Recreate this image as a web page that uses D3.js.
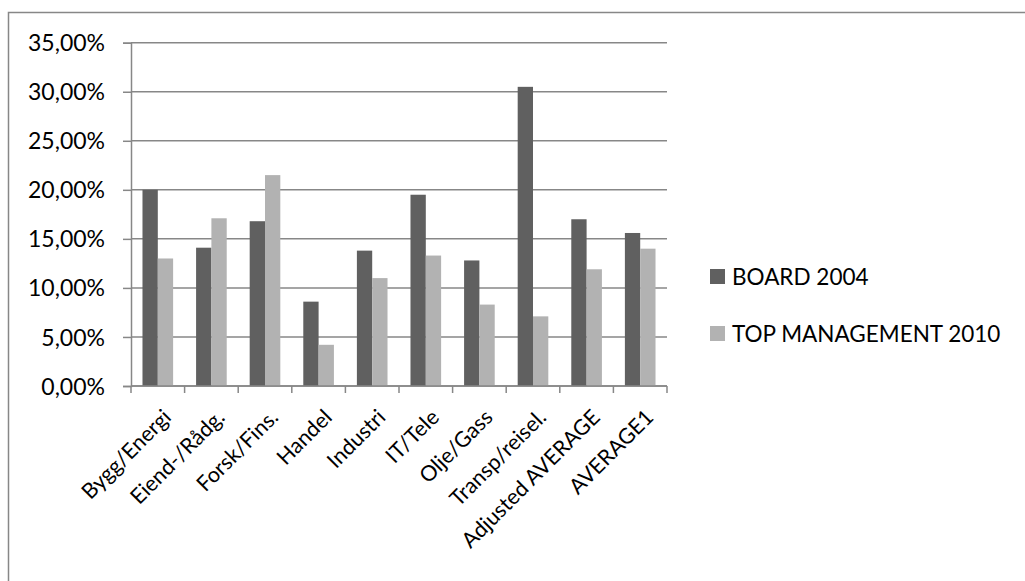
<!DOCTYPE html>
<html>
<head>
<meta charset="utf-8">
<script src="https://cdn.jsdelivr.net/npm/d3@7"></script>
<style>
  html, body { margin: 0; padding: 0; background: #fff; }
  svg { display: block; }
  text { font-family: Lato, "Open Sans", sans-serif; fill: #000; }
</style>
</head>
<body>
<svg id="chart" width="1025" height="581"></svg>
<script>
// Sector shares of women, board vs. top management
const categories = ["Bygg/Energi", "Eiend-/Rådg.", "Forsk/Fins.", "Handel", "Industri",
  "IT/Tele", "Olje/Gass", "Transp/reisel.", "Adjusted AVERAGE", "AVERAGE1"];
const board2004 = [0.200, 0.141, 0.168, 0.086, 0.138, 0.195, 0.128, 0.305, 0.170, 0.156];
const topMgmt2010 = [0.130, 0.171, 0.215, 0.042, 0.110, 0.133, 0.083, 0.071, 0.119, 0.140];
const seriesNames = ["BOARD 2004", "TOP MANAGEMENT 2010"];
const yTicks = [0, 0.05, 0.10, 0.15, 0.20, 0.25, 0.30, 0.35];

const colors = ["#606060", "#b2b2b2"];
const gridColor = "#878787";
const fontSize = 23;
const catFontSize = 21.5;

const svg = d3.select("#chart");
const plot = { left: 131, right: 667, top: 42.7, bottom: 386 };

// outer chart frame
svg.append("rect")
  .attr("x", 8.5).attr("y", 12.5)
  .attr("width", 1040).attr("height", 600)
  .attr("fill", "none").attr("stroke", gridColor).attr("stroke-width", 1.5);

const x = d3.scaleBand().domain(categories)
  .range([plot.left, plot.right]).paddingInner(0).paddingOuter(0);
const inner = d3.scaleBand().domain([0, 1])
  .range([0, x.bandwidth()]).paddingInner(0).paddingOuter(0.75);
const y = d3.scaleLinear().domain([0, 0.35]).range([plot.bottom, plot.top]);

const fmt = v => d3.format(".2f")(v * 100).replace(".", ",") + "%";

// horizontal gridlines
svg.append("g").selectAll("line").data(yTicks).join("line")
  .attr("x1", plot.left).attr("x2", plot.right)
  .attr("y1", d => y(d)).attr("y2", d => y(d))
  .attr("stroke", gridColor).attr("stroke-width", 1.5);

// y axis
const yAxis = svg.append("g")
  .attr("transform", `translate(${plot.left},0)`)
  .call(d3.axisLeft(y).tickValues(yTicks).tickFormat(fmt).tickSize(8).tickPadding(18));
yAxis.select(".domain").attr("stroke", gridColor).attr("stroke-width", 1.5);
yAxis.selectAll(".tick line").attr("stroke", gridColor).attr("stroke-width", 1.5);
yAxis.selectAll(".tick text")
  .attr("font-size", fontSize).attr("font-family", "Lato, 'Open Sans', sans-serif")
  .attr("fill", "#000").attr("dy", "0.35em");

// bars
const groups = svg.append("g").selectAll("g").data(categories).join("g")
  .attr("transform", d => `translate(${x(d)},0)`);
groups.selectAll("rect")
  .data((d, i) => [board2004[i], topMgmt2010[i]])
  .join("rect")
  .attr("x", (d, j) => inner(j))
  .attr("width", inner.bandwidth())
  .attr("y", d => y(d))
  .attr("height", d => plot.bottom - y(d))
  .attr("fill", (d, j) => colors[j]);

// x axis with tick marks on category boundaries
const xb = svg.append("g");
xb.append("line")
  .attr("x1", plot.left).attr("x2", plot.right)
  .attr("y1", plot.bottom).attr("y2", plot.bottom)
  .attr("stroke", gridColor).attr("stroke-width", 1.5);
const bounds = categories.map(c => x(c)).concat([plot.right]);
xb.selectAll("line.tk").data(bounds).join("line").attr("class", "tk")
  .attr("x1", d => d).attr("x2", d => d)
  .attr("y1", plot.bottom).attr("y2", plot.bottom + 7)
  .attr("stroke", gridColor).attr("stroke-width", 1.5);

// rotated category labels
xb.selectAll("text").data(categories).join("text")
  .attr("transform", d => `translate(${x(d) + x.bandwidth() / 2 + 4},${plot.bottom + 22}) rotate(-45)`)
  .attr("text-anchor", "end")
  .attr("dy", "0.7em")
  .attr("font-size", catFontSize)
  .text(d => d);

// legend
const legend = svg.append("g").selectAll("g").data(seriesNames).join("g")
  .attr("transform", (d, i) => `translate(710,${269 + i * 57})`);
legend.append("rect")
  .attr("width", 15).attr("height", 15)
  .attr("fill", (d, i) => colors[i]);
legend.append("text")
  .attr("x", 22).attr("y", 16)
  .attr("font-size", 22.5)
  .text(d => d);
</script>
</body>
</html>
